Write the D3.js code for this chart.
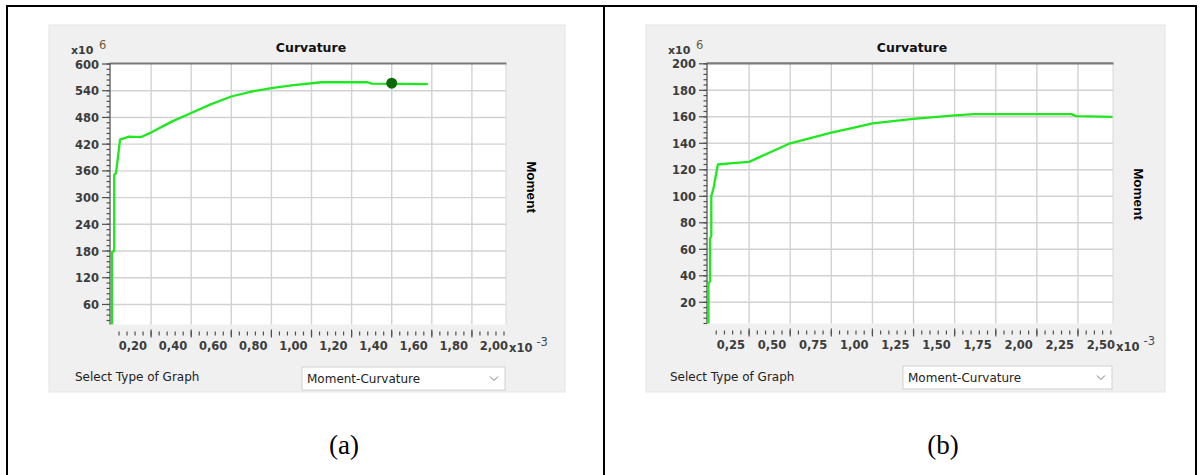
<!DOCTYPE html>
<html><head><meta charset="utf-8">
<script src="https://cdn.jsdelivr.net/npm/d3@7"></script>
<style>
html,body{margin:0;padding:0;background:#fff;}
svg{display:block;}
</style></head>
<body>
<svg id="fig" width="1200" height="475"></svg>
<script>
// Panel (a): curvature (x10^-3) vs moment (x10^6)
const curvA   = [0.005, 0.005, 0.016, 0.016, 0.025, 0.045, 0.09, 0.15, 0.20, 0.30, 0.40, 0.50, 0.60, 0.70, 0.80, 0.90, 1.05, 1.28, 1.30, 1.58];
const momentA = [15,    178,   180,   351,   355,   430,   437,  436,  446,  470,  490,  510,  527,  538,  546,  552,  559,  559,  556,  555];
const xTicksA = [0.2, 0.4, 0.6, 0.8, 1.0, 1.2, 1.4, 1.6, 1.8, 2.0];
const yTicksA = [60, 120, 180, 240, 300, 360, 420, 480, 540, 600];
const markerCurvA   = [1.40];
const markerMomentA = [557];

// Panel (b)
const curvB   = [0.003, 0.003, 0.012, 0.012, 0.02, 0.02, 0.035, 0.06, 0.15, 0.25, 0.50, 0.75, 0.93, 1.00, 1.25, 1.50, 1.62, 2.21, 2.24, 2.46];
const momentB = [4,     34,    36,    68,    70,   100,  107,   124,  125,  126,  140,  148,  153,  155,  158.5, 161, 162,  162,  160.5, 160];
const xTicksB = [0.25, 0.5, 0.75, 1.0, 1.25, 1.5, 1.75, 2.0, 2.25, 2.5];
const yTicksB = [20, 40, 60, 80, 100, 120, 140, 160, 180, 200];

const panelLabels = ["(a)", "(b)"];
const titleText = "Curvature";
const yTitleText = "Moment";
const selectText = "Select Type of Graph";
const dropText = "Moment-Curvature";

const svg = d3.select("#fig");
const UI = "'DejaVu Sans', Verdana, sans-serif";

// table frame
const frame = svg.append("g").attr("stroke", "#000").attr("stroke-width", 2);
frame.append("line").attr("x1", 6).attr("x2", 1197).attr("y1", 6).attr("y2", 6);
[7, 604, 1196].forEach(x => frame.append("line").attr("x1", x).attr("x2", x).attr("y1", 5).attr("y2", 475));

const fmt = v => d3.format(".2f")(v).replace(".", ",");

function drawPanel(o) {
  const g = svg.append("g");
  // window background
  g.append("rect").attr("x", o.panel[0]).attr("y", o.panel[1])
    .attr("width", o.panel[2] - o.panel[0]).attr("height", o.panel[3] - o.panel[1])
    .attr("fill", "#f0f0f0").attr("stroke", "#e6e6e6");

  const x = d3.scaleLinear().domain(o.xDomain).range([o.plot[0], o.plot[1]]);
  const y = d3.scaleLinear().domain(o.yDomain).range([o.plot[3], o.plot[2]]);
  const [L, R, T, B] = o.plot;

  g.append("rect").attr("x", L).attr("y", T).attr("width", R - L).attr("height", B - T).attr("fill", "#fff");

  // grid
  const grid = g.append("g").attr("stroke", "#d2d2d2").attr("stroke-width", 1.4);
  o.xTicks.filter(v => x(v) < R - 1).forEach(v =>
    grid.append("line").attr("x1", x(v)).attr("x2", x(v)).attr("y1", T).attr("y2", B));
  o.yTicks.filter(v => y(v) > T + 1).forEach(v =>
    grid.append("line").attr("x1", L).attr("x2", R).attr("y1", y(v)).attr("y2", y(v)));
  g.append("line").attr("x1", R).attr("x2", R).attr("y1", T).attr("y2", B).attr("stroke", "#d8d8d8").attr("stroke-width", 1);
  g.append("line").attr("x1", L - 1).attr("x2", R + 0.5).attr("y1", T - 0.5).attr("y2", T - 0.5).attr("stroke", "#7a7a7a").attr("stroke-width", 2.2);

  // y axis
  const ya = g.append("g").attr("stroke", "#505050").attr("stroke-width", 1.2);
  ya.append("line").attr("x1", L - 1).attr("x2", L - 1).attr("y1", T - 1).attr("y2", B);
  const yMinor = d3.range(Math.ceil(o.yDomain[0] / o.yMinor) * o.yMinor, o.yDomain[1] + 0.001, o.yMinor);
  yMinor.forEach(v => ya.append("line").attr("x1", L - 4.5).attr("x2", L - 1).attr("y1", y(v)).attr("y2", y(v)));
  o.yTicks.forEach(v => ya.append("line").attr("x1", L - 9).attr("x2", L - 1).attr("y1", y(v)).attr("y2", y(v)));
  o.yTicks.forEach(v => g.append("text").attr("x", L - 12).attr("y", y(v) + 4.5)
    .attr("text-anchor", "end").attr("font-family", UI).attr("font-weight", "bold")
    .attr("font-size", 11.5).attr("fill", "#3c3c3c").text(v));

  // x axis (detached tick row)
  const xa = g.append("g").attr("stroke", "#505050").attr("stroke-width", 1.2);
  const xMinor = d3.range(o.xMinor, o.xDomain[1] + 1e-9, o.xMinor);
  xMinor.forEach(v => xa.append("line").attr("x1", x(v)).attr("x2", x(v)).attr("y1", B + 7).attr("y2", B + 11));
  o.xTicks.filter(v => x(v) <= R + 0.5).forEach(v => xa.append("line").attr("x1", x(v)).attr("x2", x(v)).attr("y1", B + 5).attr("y2", B + 13));
  o.xTicks.forEach(v => g.append("text").attr("x", x(v) - 4).attr("y", B + 25)
    .attr("text-anchor", "end").attr("font-family", UI).attr("font-weight", "bold")
    .attr("font-size", 11.5).attr("fill", "#3c3c3c").text(fmt(v)));

  // exponent labels
  const ex = g.append("text").attr("x", x(o.xTicks[o.xTicks.length - 1]) - 3).attr("y", B + 27)
    .attr("font-family", UI).attr("font-weight", "bold").attr("font-size", 11.5).attr("fill", "#3c3c3c");
  ex.append("tspan").text("x10");
  ex.append("tspan").attr("dx", 4).attr("dy", -6).attr("font-weight", "normal").attr("font-size", 11.5).attr("fill", "#3a4a60").text("-3");
  g.append("text").attr("x", L - 40).attr("y", T - 10).attr("font-family", UI).attr("font-weight", "bold")
    .attr("font-size", 11).attr("fill", "#3c3c3c").text("x10");
  g.append("text").attr("x", L - 12).attr("y", T - 15).attr("font-family", UI)
    .attr("font-size", 11.5).attr("fill", "#6e5a3c").text("6");

  // titles
  g.append("text").attr("x", o.titleX).attr("y", 51.5).attr("text-anchor", "middle")
    .attr("font-family", UI).attr("font-weight", "bold").attr("font-size", 12.5).attr("fill", "#111").text(titleText);
  g.append("text").attr("transform", `translate(${R + 21},${o.yTitleY}) rotate(90)`)
    .attr("text-anchor", "middle").attr("font-family", "'Liberation Sans', Arial, sans-serif")
    .attr("font-weight", "bold").attr("font-size", 13.5).attr("fill", "#000").text(yTitleText);

  // curve
  const pts = o.curv.map((c, i) => [c, o.moment[i]]);
  g.append("path").datum(pts)
    .attr("d", d3.line().x(d => x(d[0])).y(d => y(d[1])))
    .attr("fill", "none").attr("stroke", "#1ee81e").attr("stroke-width", 2.3)
    .attr("stroke-linejoin", "round");
  if (o.markCurv) {
    o.markCurv.forEach((c, i) => g.append("circle").attr("cx", x(c)).attr("cy", y(o.markMoment[i]))
      .attr("r", 5.5).attr("fill", "#0b6a0b"));
  }

  // graph type selector
  g.append("text").attr("x", o.selX).attr("y", 381).attr("font-family", UI).attr("font-size", 12)
    .attr("fill", "#222").text(selectText);
  const d = o.drop;
  g.append("rect").attr("x", d[0]).attr("y", d[1]).attr("width", d[2] - d[0]).attr("height", d[3] - d[1])
    .attr("fill", "#fff").attr("stroke", "#d0d0d0");
  g.append("text").attr("x", d[0] + 5).attr("y", (d[1] + d[3]) / 2 + 4.5).attr("font-family", UI)
    .attr("font-size", 12).attr("fill", "#222").text(dropText);
  const cx = d[2] - 11, cy = (d[1] + d[3]) / 2;
  g.append("path").attr("d", `M${cx - 4},${cy - 2}L${cx},${cy + 2}L${cx + 4},${cy - 2}`)
    .attr("fill", "none").attr("stroke", "#777").attr("stroke-width", 1);

  // caption
  g.append("text").attr("x", o.capX).attr("y", 454).attr("text-anchor", "middle")
    .attr("font-family", "'Liberation Serif', 'Times New Roman', serif").attr("font-size", 27)
    .attr("fill", "#000").text(o.caption);
}

drawPanel({
  panel: [49, 25, 565, 392], plot: [111, 506, 64, 324.5],
  xDomain: [0, 1.97], yDomain: [15, 600], xTicks: xTicksA, yTicks: yTicksA,
  xMinor: 0.04, yMinor: 12, curv: curvA, moment: momentA,
  markCurv: markerCurvA, markMoment: markerMomentA,
  titleX: 311, yTitleY: 187, selX: 75, drop: [302, 367, 505, 390],
  capX: 344, caption: panelLabels[0]
});

drawPanel({
  panel: [646, 25, 1165, 392], plot: [708, 1113, 63.8, 323.5],
  xDomain: [0, 2.463], yDomain: [4, 200], xTicks: xTicksB, yTicks: yTicksB,
  xMinor: 0.05, yMinor: 4, curv: curvB, moment: momentB,
  titleX: 912, yTitleY: 194, selX: 670, drop: [903, 366, 1112, 389],
  capX: 943, caption: panelLabels[1]
});
</script>
</body></html>
